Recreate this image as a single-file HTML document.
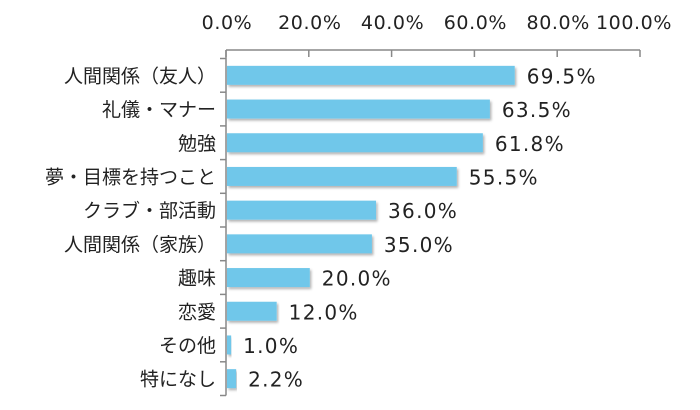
<!DOCTYPE html>
<html><head><meta charset="utf-8"><style>
body{margin:0;background:#fff;width:700px;height:405px;overflow:hidden}
text{font-family:"DejaVu Sans","Noto Sans CJK JP",sans-serif;fill:#222}
text.cat{font-family:"Noto Sans CJK JP",sans-serif}
</style></head><body>
<svg id="c" width="700" height="405">
<defs><filter id="sh" x="-5%" y="-20%" width="110%" height="160%"><feDropShadow dx="1.5" dy="2" stdDeviation="1.2" flood-color="#000" flood-opacity="0.3"/></filter></defs>
</svg>
<script>
const categories=["人間関係（友人）","礼儀・マナー","勉強","夢・目標を持つこと","クラブ・部活動","人間関係（家族）","趣味","恋愛","その他","特になし"];
const values=[69.5,63.5,61.8,55.5,36.0,35.0,20.0,12.0,1.0,2.2];
const ticks=[0,20,40,60,80,100];
const svg=document.getElementById('c');const NS='http://www.w3.org/2000/svg';
const x0=226,x1=640,top0=58.5,band=33.7;
const X=v=>x0+(x1-x0)*v/100;
function mk(t,a,txt){const e=document.createElementNS(NS,t);for(const k in a)e.setAttribute(k,a[k]);if(txt!=null)e.textContent=txt;svg.appendChild(e);return e;}
let ax=mk('line',{x1:x0,y1:50,x2:X(100),y2:50,stroke:'#888','stroke-width':1.5});


ticks.forEach(t=>{
 const l=mk('line',{x1:X(t),y1:50,x2:X(t),y2:57,stroke:'#888','stroke-width':1.5});
 
 
 const last=t===ticks[ticks.length-1];
 const tx=mk('text',{x:last?672:X(t)+1,y:29,'text-anchor':last?'end':'middle','font-size':19,'letter-spacing':0.6},t.toFixed(1)+'%');
 
 
});
let ay=mk('line',{x1:x0,y1:50,x2:x0,y2:top0+band*categories.length,stroke:'#888','stroke-width':1.5});


for(let i=0;i<=categories.length;i++){
 const l=mk('line',{x1:x0-6,y1:top0+band*i,x2:x0,y2:top0+band*i,stroke:'#888','stroke-width':1.5});
 
 
}
categories.forEach((c,i)=>{
 const cy=top0+band*(i+0.5);
 const r=mk('rect',{x:x0+1,y:cy-9.5,width:X(values[i])-x0,height:19,fill:'#6fc7ea',filter:'url(#sh)'});
 
 
 const lb=mk('text',{x:216,y:cy+7,'text-anchor':'end','font-size':19,'class':'cat'},c);
 
 
 const v=mk('text',{x:X(values[i])+13,y:cy+8,'font-size':20,'letter-spacing':1.3},values[i].toFixed(1)+'%');
 
 
});
</script>
</body></html>
